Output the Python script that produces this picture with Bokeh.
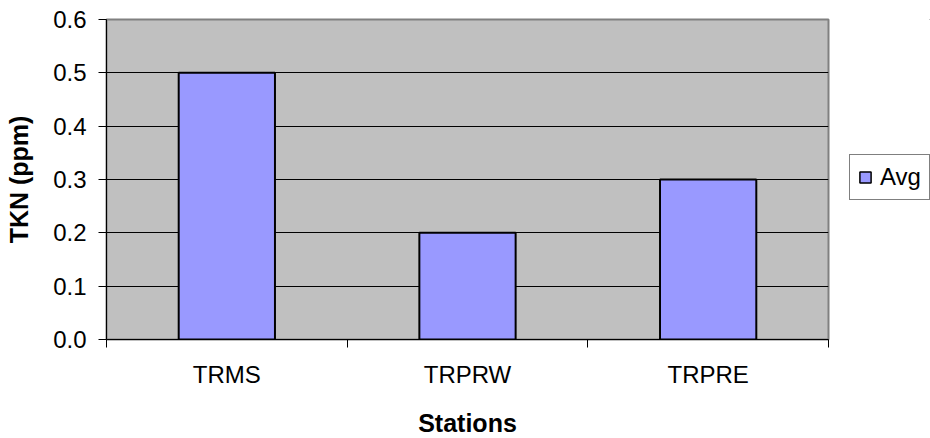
from bokeh.plotting import figure
from bokeh.layouts import row
from bokeh.models import Range1d, FixedTicker, Legend, LegendItem, ColumnDataSource, NumeralTickFormatter
from bokeh.embed import file_html
from bokeh.resources import INLINE

# Data
stations = ["TRMS", "TRPRW", "TRPRE"]
avg_values = [0.5, 0.2, 0.3]
series_name = "Avg"
y_ticks = [0.0, 0.1, 0.2, 0.3, 0.4, 0.5, 0.6]

centers = [i + 0.5 for i in range(len(stations))]
boundaries = [float(i) for i in range(len(stations) + 1)]

FONT = "Liberation Sans"
BAR_FILL = "#9999FF"

p = figure(frame_width=722, frame_height=320, output_backend="svg", toolbar_location=None,
           x_range=Range1d(0, len(stations)), y_range=Range1d(0, 0.6),
           min_border_left=106, min_border_right=2, min_border_top=19, min_border_bottom=99)

p.background_fill_color = "#C0C0C0"
p.border_fill_color = "white"
p.outline_line_color = "#808080"
p.outline_line_width = 2

src = ColumnDataSource(dict(x=centers, top=avg_values, name=stations))
r = p.vbar(x="x", top="top", width=0.4, source=src, fill_color=BAR_FILL,
           line_color="black", line_width=2)

# Grid
p.xgrid.visible = False
p.ygrid.grid_line_color = "black"
p.ygrid.grid_line_width = 1
p.ygrid.ticker = FixedTicker(ticks=y_ticks)

# Y axis
p.yaxis.ticker = FixedTicker(ticks=y_ticks)
p.yaxis.formatter = NumeralTickFormatter(format="0.0")
p.yaxis.axis_line_color = "black"
p.yaxis.major_tick_line_color = "black"
p.yaxis.major_tick_out = 8
p.yaxis.major_tick_in = 0
p.yaxis.minor_tick_line_color = None
p.yaxis.major_label_standoff = 12
p.yaxis.major_label_text_font = FONT
p.yaxis.major_label_text_font_size = "24px"
p.yaxis.major_label_text_color = "black"
p.yaxis.axis_label = "TKN (ppm)"
p.yaxis.axis_label_text_font = FONT
p.yaxis.axis_label_text_font_size = "25px"
p.yaxis.axis_label_text_font_style = "bold"
p.yaxis.axis_label_text_color = "black"
p.yaxis.axis_label_standoff = 17

# X axis
p.xaxis.ticker = FixedTicker(ticks=centers, minor_ticks=boundaries)
p.xaxis.major_label_overrides = {c: s for c, s in zip(centers, stations)}
p.xaxis.axis_line_color = "black"
p.xaxis.major_tick_line_color = None
p.xaxis.major_tick_out = 0
p.xaxis.major_tick_in = 0
p.xaxis.minor_tick_line_color = "black"
p.xaxis.minor_tick_out = 8
p.xaxis.minor_tick_in = 0
p.xaxis.major_label_standoff = 13
p.xaxis.major_label_text_font = FONT
p.xaxis.major_label_text_font_size = "24px"
p.xaxis.major_label_text_color = "black"
p.xaxis.axis_label = "Stations"
p.xaxis.axis_label_text_font = FONT
p.xaxis.axis_label_text_font_size = "25px"
p.xaxis.axis_label_text_font_style = "bold"
p.xaxis.axis_label_text_color = "black"
p.xaxis.axis_label_standoff = 18

# Legend panel (separate small figure to the right; its bars lie far outside its view)
p2 = figure(width=100, height=438, output_backend="svg", toolbar_location=None,
            x_range=Range1d(-200, -199), y_range=Range1d(-200, -199),
            min_border=0, min_border_left=0, min_border_right=0,
            min_border_top=0, min_border_bottom=0)
p2.axis.visible = False
p2.grid.visible = False
p2.outline_line_color = None
p2.background_fill_color = "white"
p2.border_fill_color = "white"
key = p2.vbar(x="x", top="top", width=0.4, source=src, fill_color=BAR_FILL,
              line_color="black", line_width=1.5)

legend = Legend(items=[LegendItem(label=series_name, renderers=[key])], location=(19, 138))
legend.border_line_color = "black"
legend.border_line_width = 1
legend.background_fill_color = "white"
legend.background_fill_alpha = 1
legend.label_text_font = FONT
legend.label_text_font_size = "24px"
legend.label_text_color = "black"
legend.glyph_width = 14
legend.glyph_height = 14
legend.label_standoff = 8
legend.padding = 8
legend.margin = 0
legend.spacing = 0
p2.add_layout(legend, "center")

layout = row(p, p2)
open("out.html", "w").write(file_html(layout, INLINE))
